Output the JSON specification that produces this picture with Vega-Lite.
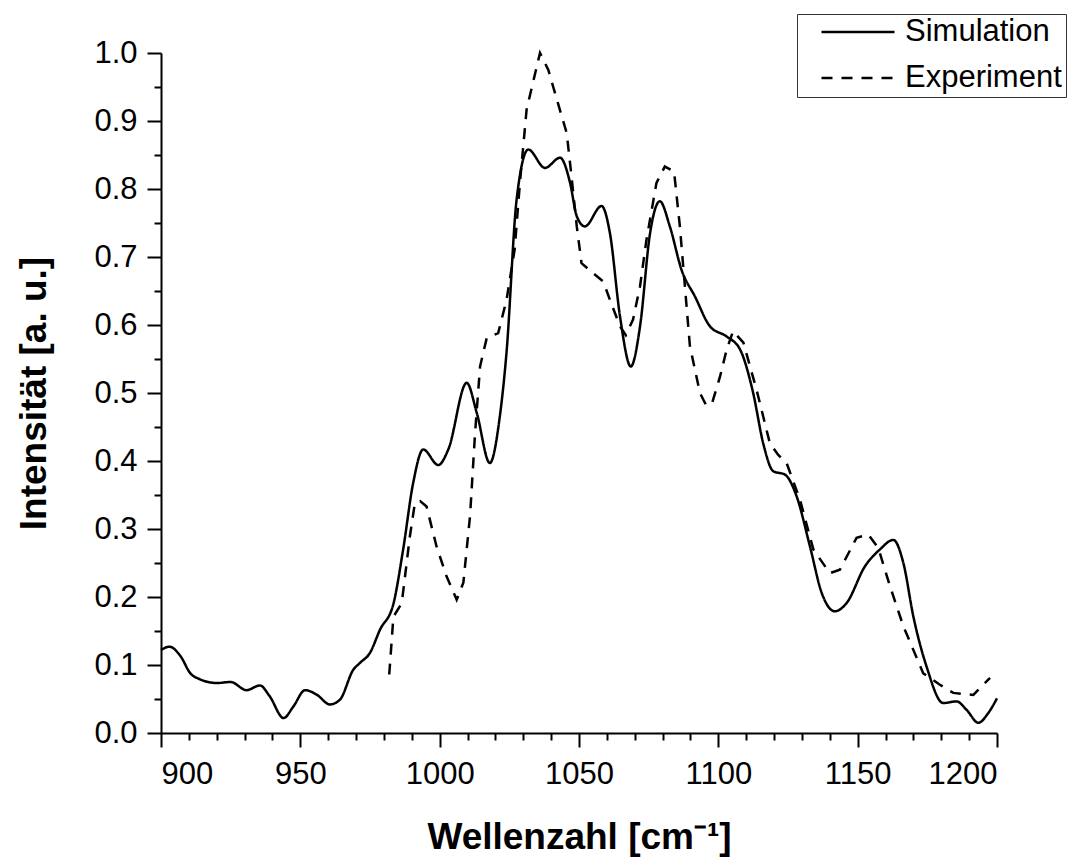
{
  "$schema": "https://vega.github.io/schema/vega-lite/v6.json",
  "width": 836,
  "height": 680,
  "autosize": "none",
  "padding": {"left": 161, "top": 53, "right": 71, "bottom": 128},
  "background": "white",
  "config": {
    "view": {"stroke": null},
    "font": "Liberation Sans",
    "axis": {"grid": false, "domainColor": "black", "tickColor": "black", "labelColor": "black", "titleColor": "black", "labelFont": "Liberation Sans", "titleFont": "Liberation Sans"}
  },
  "datasets": {
    "sim": [
      {"x": 900, "y": 0.122, "series": "Simulation"},
      {"x": 903, "y": 0.127, "series": "Simulation"},
      {"x": 907, "y": 0.113, "series": "Simulation"},
      {"x": 910.5, "y": 0.088, "series": "Simulation"},
      {"x": 914, "y": 0.079, "series": "Simulation"},
      {"x": 920, "y": 0.0735, "series": "Simulation"},
      {"x": 925, "y": 0.075, "series": "Simulation"},
      {"x": 930.7, "y": 0.063, "series": "Simulation"},
      {"x": 935.5, "y": 0.07, "series": "Simulation"},
      {"x": 939, "y": 0.054, "series": "Simulation"},
      {"x": 944, "y": 0.022, "series": "Simulation"},
      {"x": 947.5, "y": 0.039, "series": "Simulation"},
      {"x": 951.7, "y": 0.063, "series": "Simulation"},
      {"x": 956, "y": 0.056, "series": "Simulation"},
      {"x": 960.6, "y": 0.042, "series": "Simulation"},
      {"x": 964.2, "y": 0.049, "series": "Simulation"},
      {"x": 969, "y": 0.093, "series": "Simulation"},
      {"x": 971.4, "y": 0.103, "series": "Simulation"},
      {"x": 975, "y": 0.118, "series": "Simulation"},
      {"x": 978.6, "y": 0.152, "series": "Simulation"},
      {"x": 983.4, "y": 0.19, "series": "Simulation"},
      {"x": 986.9, "y": 0.27, "series": "Simulation"},
      {"x": 990.5, "y": 0.368, "series": "Simulation"},
      {"x": 994.1, "y": 0.417, "series": "Simulation"},
      {"x": 999.5, "y": 0.394, "series": "Simulation"},
      {"x": 1003.1, "y": 0.417, "series": "Simulation"},
      {"x": 1009.7, "y": 0.515, "series": "Simulation"},
      {"x": 1013.3, "y": 0.471, "series": "Simulation"},
      {"x": 1018, "y": 0.397, "series": "Simulation"},
      {"x": 1021.6, "y": 0.466, "series": "Simulation"},
      {"x": 1024, "y": 0.56, "series": "Simulation"},
      {"x": 1027.6, "y": 0.784, "series": "Simulation"},
      {"x": 1031.8, "y": 0.858, "series": "Simulation"},
      {"x": 1037.8, "y": 0.831, "series": "Simulation"},
      {"x": 1043.2, "y": 0.846, "series": "Simulation"},
      {"x": 1046.8, "y": 0.809, "series": "Simulation"},
      {"x": 1049.2, "y": 0.76, "series": "Simulation"},
      {"x": 1052.1, "y": 0.745, "series": "Simulation"},
      {"x": 1058.1, "y": 0.775, "series": "Simulation"},
      {"x": 1061.1, "y": 0.735, "series": "Simulation"},
      {"x": 1064.7, "y": 0.613, "series": "Simulation"},
      {"x": 1068.6, "y": 0.539, "series": "Simulation"},
      {"x": 1071.9, "y": 0.598, "series": "Simulation"},
      {"x": 1075.5, "y": 0.735, "series": "Simulation"},
      {"x": 1079, "y": 0.782, "series": "Simulation"},
      {"x": 1082.6, "y": 0.745, "series": "Simulation"},
      {"x": 1086.8, "y": 0.681, "series": "Simulation"},
      {"x": 1091.6, "y": 0.642, "series": "Simulation"},
      {"x": 1097, "y": 0.598, "series": "Simulation"},
      {"x": 1103, "y": 0.583, "series": "Simulation"},
      {"x": 1107.8, "y": 0.564, "series": "Simulation"},
      {"x": 1112.5, "y": 0.5, "series": "Simulation"},
      {"x": 1116.1, "y": 0.426, "series": "Simulation"},
      {"x": 1119.7, "y": 0.385, "series": "Simulation"},
      {"x": 1123.9, "y": 0.38, "series": "Simulation"},
      {"x": 1128.1, "y": 0.348, "series": "Simulation"},
      {"x": 1132.9, "y": 0.274, "series": "Simulation"},
      {"x": 1137.1, "y": 0.206, "series": "Simulation"},
      {"x": 1141.8, "y": 0.179, "series": "Simulation"},
      {"x": 1146, "y": 0.191, "series": "Simulation"},
      {"x": 1152.6, "y": 0.245, "series": "Simulation"},
      {"x": 1158, "y": 0.27, "series": "Simulation"},
      {"x": 1162.8, "y": 0.284, "series": "Simulation"},
      {"x": 1166.4, "y": 0.25, "series": "Simulation"},
      {"x": 1170, "y": 0.171, "series": "Simulation"},
      {"x": 1174.7, "y": 0.098, "series": "Simulation"},
      {"x": 1180.7, "y": 0.044, "series": "Simulation"},
      {"x": 1185.5, "y": 0.0465, "series": "Simulation"},
      {"x": 1189.1, "y": 0.034, "series": "Simulation"},
      {"x": 1193.3, "y": 0.015, "series": "Simulation"},
      {"x": 1196.8, "y": 0.029, "series": "Simulation"},
      {"x": 1200, "y": 0.051, "series": "Simulation"}
    ],
    "exp": [
      {"x": 981.9, "y": 0.086, "series": "Experiment"},
      {"x": 983.4, "y": 0.171, "series": "Experiment"},
      {"x": 986.4, "y": 0.191, "series": "Experiment"},
      {"x": 989.3, "y": 0.289, "series": "Experiment"},
      {"x": 991.1, "y": 0.338, "series": "Experiment"},
      {"x": 993, "y": 0.341, "series": "Experiment"},
      {"x": 995.3, "y": 0.333, "series": "Experiment"},
      {"x": 998.9, "y": 0.274, "series": "Experiment"},
      {"x": 1002.5, "y": 0.23, "series": "Experiment"},
      {"x": 1006.1, "y": 0.196, "series": "Experiment"},
      {"x": 1008.5, "y": 0.221, "series": "Experiment"},
      {"x": 1010.9, "y": 0.319, "series": "Experiment"},
      {"x": 1012.7, "y": 0.441, "series": "Experiment"},
      {"x": 1014.5, "y": 0.539, "series": "Experiment"},
      {"x": 1016.9, "y": 0.581, "series": "Experiment"},
      {"x": 1021, "y": 0.588, "series": "Experiment"},
      {"x": 1024, "y": 0.637, "series": "Experiment"},
      {"x": 1026.9, "y": 0.711, "series": "Experiment"},
      {"x": 1028.8, "y": 0.809, "series": "Experiment"},
      {"x": 1031.2, "y": 0.917, "series": "Experiment"},
      {"x": 1036, "y": 1.0, "series": "Experiment"},
      {"x": 1039, "y": 0.975, "series": "Experiment"},
      {"x": 1042.6, "y": 0.924, "series": "Experiment"},
      {"x": 1045.6, "y": 0.882, "series": "Experiment"},
      {"x": 1047.3, "y": 0.819, "series": "Experiment"},
      {"x": 1049.2, "y": 0.745, "series": "Experiment"},
      {"x": 1050.9, "y": 0.691, "series": "Experiment"},
      {"x": 1055.1, "y": 0.676, "series": "Experiment"},
      {"x": 1058.7, "y": 0.664, "series": "Experiment"},
      {"x": 1061.1, "y": 0.637, "series": "Experiment"},
      {"x": 1064.7, "y": 0.598, "series": "Experiment"},
      {"x": 1066.8, "y": 0.585, "series": "Experiment"},
      {"x": 1069.4, "y": 0.608, "series": "Experiment"},
      {"x": 1071.9, "y": 0.657, "series": "Experiment"},
      {"x": 1074.2, "y": 0.725, "series": "Experiment"},
      {"x": 1077.8, "y": 0.809, "series": "Experiment"},
      {"x": 1080.8, "y": 0.833, "series": "Experiment"},
      {"x": 1084.1, "y": 0.826, "series": "Experiment"},
      {"x": 1086.2, "y": 0.745, "series": "Experiment"},
      {"x": 1088, "y": 0.657, "series": "Experiment"},
      {"x": 1089.8, "y": 0.569, "series": "Experiment"},
      {"x": 1093.4, "y": 0.5, "series": "Experiment"},
      {"x": 1095.5, "y": 0.483, "series": "Experiment"},
      {"x": 1097.6, "y": 0.483, "series": "Experiment"},
      {"x": 1100.6, "y": 0.524, "series": "Experiment"},
      {"x": 1103, "y": 0.564, "series": "Experiment"},
      {"x": 1105.3, "y": 0.591, "series": "Experiment"},
      {"x": 1109, "y": 0.574, "series": "Experiment"},
      {"x": 1113.7, "y": 0.505, "series": "Experiment"},
      {"x": 1118.5, "y": 0.426, "series": "Experiment"},
      {"x": 1121.5, "y": 0.409, "series": "Experiment"},
      {"x": 1124.5, "y": 0.397, "series": "Experiment"},
      {"x": 1129.3, "y": 0.343, "series": "Experiment"},
      {"x": 1134.1, "y": 0.27, "series": "Experiment"},
      {"x": 1140, "y": 0.235, "series": "Experiment"},
      {"x": 1143.6, "y": 0.24, "series": "Experiment"},
      {"x": 1149.6, "y": 0.287, "series": "Experiment"},
      {"x": 1153.8, "y": 0.292, "series": "Experiment"},
      {"x": 1157.4, "y": 0.272, "series": "Experiment"},
      {"x": 1161.6, "y": 0.216, "series": "Experiment"},
      {"x": 1166.4, "y": 0.157, "series": "Experiment"},
      {"x": 1173.5, "y": 0.088, "series": "Experiment"},
      {"x": 1179.5, "y": 0.071, "series": "Experiment"},
      {"x": 1184.3, "y": 0.059, "series": "Experiment"},
      {"x": 1191.5, "y": 0.056, "series": "Experiment"},
      {"x": 1197.5, "y": 0.081, "series": "Experiment"}
    ]
  },
  "resolve": {"axis": {"x": "independent", "y": "independent"}},
  "layer": [
    {
      "data": {"name": "sim"},
      "mark": {"type": "line", "interpolate": "monotone", "color": "black", "strokeWidth": 2.5},
      "encoding": {
        "x": {"field": "x", "type": "quantitative",
          "scale": {"domain": [900, 1200], "nice": false, "zero": false},
          "axis": {"orient": "bottom", "values": [900, 950, 1000, 1050, 1100, 1150, 1200], "format": "d",
            "tickSize": 14, "tickWidth": 2, "domainWidth": 2, "labelFontSize": 31, "labelPadding": 12,
            "title": "Wellenzahl [cm⁻¹]", "titleFontSize": 37, "titleFontWeight": "bold", "titlePadding": 30}},
        "y": {"field": "y", "type": "quantitative",
          "scale": {"domain": [0, 1], "nice": false},
          "axis": {"orient": "left", "values": [0, 0.1, 0.2, 0.3, 0.4, 0.5, 0.6, 0.7, 0.8, 0.9, 1.0], "format": ".1f",
            "tickSize": 14, "tickWidth": 2, "domainWidth": 2, "labelFontSize": 31, "labelPadding": 10,
            "title": "Intensität [a. u.]", "titleFontSize": 37, "titleFontWeight": "bold", "titlePadding": 40}},
        "strokeDash": {"field": "series", "type": "nominal",
          "scale": {"domain": ["Simulation", "Experiment"], "range": [[1, 0], [11, 9]]},
          "legend": {"orient": "none", "legendX": 636, "legendY": -39, "title": null,
            "strokeColor": "#333", "fillColor": "white", "padding": 4,
            "symbolType": "stroke", "symbolSize": 5329, "symbolStrokeWidth": 2.5, "symbolStrokeColor": "black",
            "symbolOffset": 19, "labelOffset": 9, "labelFontSize": 31, "labelFont": "Liberation Sans", "labelColor": "black",
            "clipHeight": 28, "rowPadding": 15}}
      }
    },
    {
      "data": {"name": "exp"},
      "mark": {"type": "line", "interpolate": "linear", "color": "black", "strokeWidth": 2.5},
      "encoding": {
        "x": {"field": "x", "type": "quantitative",
          "axis": {"orient": "bottom", "values": [910, 920, 930, 940, 960, 970, 980, 990, 1010, 1020, 1030, 1040, 1060, 1070, 1080, 1090, 1110, 1120, 1130, 1140, 1160, 1170, 1180, 1190],
            "tickSize": 7, "tickWidth": 2, "labels": false, "domain": false, "title": null}},
        "y": {"field": "y", "type": "quantitative",
          "axis": {"orient": "left", "values": [0.05, 0.15, 0.25, 0.35, 0.45, 0.55, 0.65, 0.75, 0.85, 0.95],
            "tickSize": 7, "tickWidth": 2, "labels": false, "domain": false, "title": null}},
        "strokeDash": {"field": "series", "type": "nominal"}
      }
    }
  ]
}
